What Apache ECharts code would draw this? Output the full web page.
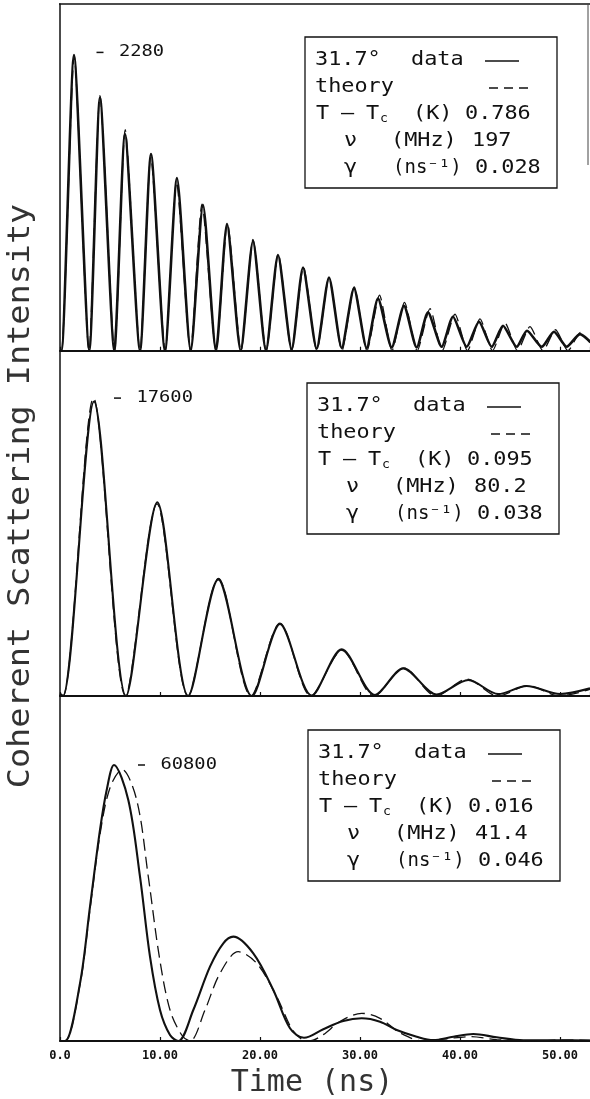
<!DOCTYPE html>
<html>
<head>
<meta charset="utf-8">
<script src="https://cdn.jsdelivr.net/npm/echarts@6/dist/echarts.min.js"></script>
<style>
  html, body { margin: 0; padding: 0; background: #fff; }
  #chart { width: 590px; height: 1099px; }
</style>
</head>
<body>
<div id="chart"></div>
<script>
// [time (ns), counts]
var dataTop = [[0,0],[0.15,0],[1.4,2260],[2.93,0],[4.0,1936],[5.43,0],[6.5,1656],[8.0,0],[9.1,1503],[10.5,0],
  [11.7,1320],[13.07,0],[14.3,1114],[15.6,0],[16.7,969],[18.07,0],[19.3,839],[20.6,0],[21.8,732],[23.17,10],
  [24.3,636],[25.67,15],[26.9,560],[28.17,20],[29.4,478],[30.67,20],[31.8,399],[33.17,25],[34.4,343],[35.67,25],
  [36.8,293],[38.17,30],[39.3,260],[40.67,30],[41.9,221],[43.17,30],[44.3,191],[45.67,30],[46.7,153],[48.17,30],
  [49.4,145],[50.67,30],[52.0,127],[53,70]];
var theoryTop = [[0,0],[0.15,0],[1.42,2250],[2.9,0],[4.0,1950],[5.45,0],[6.52,1690],[8.0,0],[9.08,1480],[10.52,0],
  [11.65,1290],[13.05,0],[14.2,1120],[15.6,0],[16.75,975],[18.1,0],[19.3,850],[20.62,0],[21.83,740],[23.15,0],
  [24.35,640],[25.68,0],[26.9,560],[28.2,0],[29.42,487],[30.7,0],[31.95,425],[33.2,0],[34.45,370],[35.72,0],
  [37.0,322],[38.22,0],[39.5,280],[40.75,0],[42.0,243],[43.25,0],[44.5,212],[45.75,0],[47.0,184],[48.3,0],
  [49.55,160],[50.8,0],[52.05,140],[53,60]];

var dataMid = [[0,150],[0.3,0],[3.4,17400],[6.6,0],[9.73,11450],[12.83,0],[15.83,6890],[19.2,0],[22.0,4250],
  [25.17,30],[28.17,2756],[31.5,60],[34.33,1634],[37.67,90],[40.83,945],[43.83,110],[46.67,590],[50.0,120],[53,455]];
var theoryMid = [[0,0],[0.3,0],[3.35,17600],[6.55,0],[9.7,11350],[12.8,0],[15.85,6950],[19.1,0],[22.0,4300],
  [25.1,0],[28.2,2700],[31.4,0],[34.4,1650],[37.6,0],[40.7,1000],[43.8,0],[46.8,610],[50.0,0],[53,390]];

var dataBot = [[0,0],[0.5,0],[2.0,12700],[3.0,29600],[4.0,46500],[4.67,55300],[5.4,60800],[6.83,53100],[8.0,36200],
  [9.0,18570],[10.0,6830],[11.0,1320],[11.83,0],[13.33,6830],[15.0,16370],[16.33,21520],[17.33,23000],[19.33,19320],
  [21.33,11240],[23.0,2800],[24.4,700],[26.33,2600],[28.33,4400],[30.17,5000],[32.0,4250],[33.67,2420],[35.67,950],
  [37.33,200],[39.33,950],[41.33,1540],[43.67,810],[46.33,150],[50,150],[53,120]];
var theoryBot = [[0,0],[0.5,0],[2.0,12400],[3.0,29000],[4.0,45500],[5.0,55800],[6.2,59800],[7.67,53100],[8.83,36200],
  [9.93,18570],[11.0,6830],[12.17,1320],[13.0,0],[14.5,6830],[16.0,14900],[17.83,19670],[19.67,17100],[21.67,9760],
  [23.2,2600],[24.3,200],[24.9,0],[26.33,1400],[28.0,4300],[30.17,6100],[32.0,5000],[34.0,1800],[36.33,0],
  [38.67,500],[41.0,950],[43.67,300],[47.0,0],[50.5,200],[53,150]];

// peak count markers
var peakT = [4.0, 5.75, 8.15];
var peakCount = [2280, 17600, 60800];

// fit parameters shown in the boxes
var angleLabel = '31.7°';
var tcK = ['0.786', '0.095', '0.016'];
var nuMHz = ['197', '80.2', '41.4'];
var gammaNs = ['0.028', '0.038', '0.046'];

var yMax = [2650, 20400, 76000];
var gridTop = [4, 350.7, 696];
var gridH = [346.7, 345.3, 345];
var dataWidth = [2.6, 2.1, 2.1];
var smoothing = [0.22, 0.3, 0.33];
var boxLeft = [305, 307, 308];
var boxTop = [37, 383, 730];

var chart = echarts.init(document.getElementById('chart'));
var mono = 'DejaVu Sans Mono';
var ink = '#111';

var panels = [[dataTop, theoryTop], [dataMid, theoryMid], [dataBot, theoryBot]];
var grids = [], xAxes = [], yAxes = [], series = [];
for (var i = 0; i < 3; i++) {
  grids.push({ left: 60, top: gridTop[i], width: 530, height: gridH[i] });
  xAxes.push({
    type: 'value', gridIndex: i, min: 0, max: 53, interval: 10,
    axisLine: { show: true, onZero: false, lineStyle: { color: ink, width: 2 } },
    axisTick: { show: true, inside: true, length: 4, lineStyle: { color: ink, width: 1.2 } },
    axisLabel: {
      show: i === 2, showMaxLabel: false, margin: 9,
      fontFamily: mono, fontWeight: 'bold', fontSize: 12, color: ink,
      formatter: function (v) { return v === 0 ? '0.0' : v.toFixed(2); }
    },
    splitLine: { show: false }
  });
  yAxes.push({
    type: 'value', gridIndex: i, min: 0, max: yMax[i],
    axisLine: { show: true, lineStyle: { color: ink, width: 1.5 } },
    axisTick: { show: false }, axisLabel: { show: false }, splitLine: { show: false }
  });
  series.push({
    type: 'line', xAxisIndex: i, yAxisIndex: i, data: panels[i][0],
    showSymbol: false, smooth: smoothing[i], z: 3,
    lineStyle: { color: ink, width: dataWidth[i] }
  });
  series.push({
    type: 'line', xAxisIndex: i, yAxisIndex: i, data: panels[i][1],
    showSymbol: false, smooth: smoothing[i], z: 4,
    lineStyle: { color: ink, width: 1.3, type: [12, 6] }
  });
}

chart.setOption({
  animation: false,
  backgroundColor: '#fff',
  grid: grids, xAxis: xAxes, yAxis: yAxes, series: series
});

function label(x, y, s, size, sx) {
  return {
    type: 'text', x: x, y: y, z: 100, scaleX: sx || 1.15,
    style: { text: s, fontFamily: mono, fontSize: size || 19, fill: ink, textAlign: 'left', textVerticalAlign: 'middle' }
  };
}

function box(i) {
  var L = boxLeft[i], T = boxTop[i];
  var r = [T + 23, T + 50, T + 77, T + 104, T + 131];
  return [
    { type: 'rect', z: 99, shape: { x: L, y: T, width: 252, height: 151 },
      style: { fill: '#fff', stroke: ink, lineWidth: 1.3 } },
    label(L + 10, r[0], angleLabel),
    label(L + 106, r[0], 'data'),
    { type: 'line', z: 100, shape: { x1: L + 180, y1: r[0] + 1, x2: L + 214, y2: r[0] + 1 },
      style: { stroke: ink, lineWidth: 1.3 } },
    label(L + 10, r[1], 'theory'),
    { type: 'line', z: 100, shape: { x1: L + 184, y1: r[1] + 1, x2: L + 223, y2: r[1] + 1 },
      style: { stroke: ink, lineWidth: 1.3, lineDash: [9, 6] } },
    label(L + 11, r[2], 'T'),
    label(L + 36, r[2], '–'),
    label(L + 61, r[2], 'T'),
    label(L + 75, r[2] + 5, 'c', 12, 1.1),
    label(L + 108, r[2], '(K)'),
    label(L + 160, r[2], tcK[i]),
    label(L + 39, r[3], 'ν'),
    label(L + 86, r[3], '(MHz)'),
    label(L + 167, r[3], nuMHz[i]),
    label(L + 39, r[4], 'γ'),
    label(L + 88, r[4], '(ns⁻¹)', 19, 1.0),
    label(L + 170, r[4], gammaNs[i])
  ];
}

var g = [
  { type: 'line', z: 50, shape: { x1: 59, y1: 4, x2: 590, y2: 4 }, style: { stroke: ink, lineWidth: 1.5 } },
  { type: 'line', z: 50, shape: { x1: 588, y1: 4, x2: 588, y2: 165 }, style: { stroke: '#444', lineWidth: 1 } },
  { type: 'text', x: 21, y: 496, rotation: Math.PI / 2, scaleX: 1.116, z: 100,
    style: { text: 'Coherent Scattering Intensity', fontFamily: mono, fontSize: 30, fill: '#333',
      textAlign: 'center', textVerticalAlign: 'middle' } },
  { type: 'text', x: 312, y: 1083, z: 100,
    style: { text: 'Time (ns)', fontFamily: mono, fontSize: 30, fill: '#333',
      textAlign: 'center', textVerticalAlign: 'middle' } }
];
for (var k = 0; k < 3; k++) {
  g = g.concat(box(k));
  var p = chart.convertToPixel({ xAxisIndex: k, yAxisIndex: k }, [peakT[k], peakCount[k]]);
  g.push({ type: 'line', z: 100, shape: { x1: p[0] - 3.5, y1: p[1], x2: p[0] + 3.5, y2: p[1] },
    style: { stroke: ink, lineWidth: 1.5 } });
  g.push(label(p[0] + 19, p[1], String(peakCount[k]), 15, 1.25));
}
chart.setOption({ graphic: { elements: g } });
</script>
</body>
</html>
